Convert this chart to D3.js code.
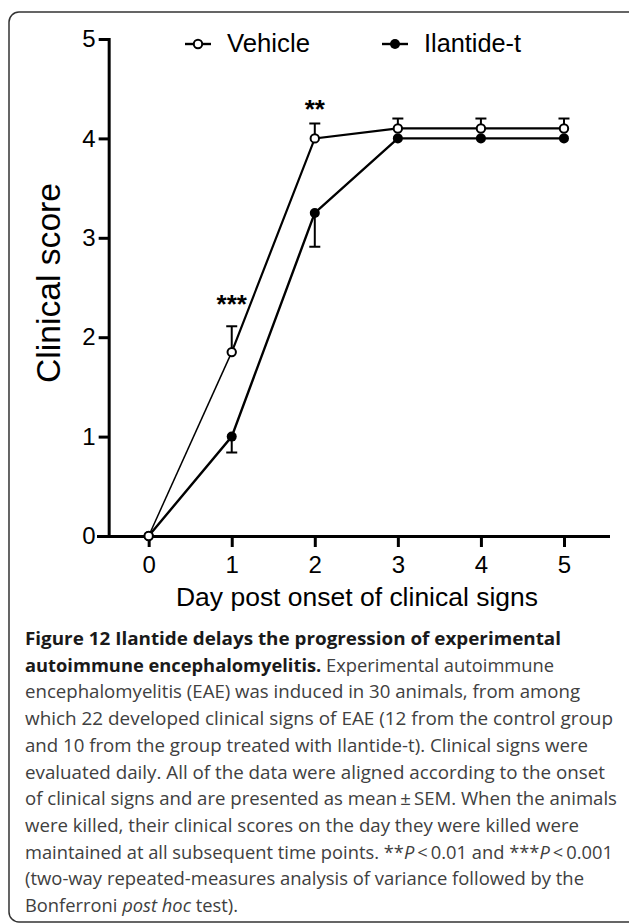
<!DOCTYPE html>
<html lang="en">
<head>
    <meta charset="UTF-8">
    <title>Ilantide delays the progression of EAE</title>
    <script src="https://d3js.org/d3.v7.min.js"></script>
    <style>
        body { margin: 0; background: #fff; }
        .axis path, .axis line { stroke: #000; stroke-width: 3; }
        .axis text { font-family: "Liberation Sans", Arial, sans-serif; font-size: 24px; fill: #000; }
        .lbl { font-family: "Liberation Sans", Arial, sans-serif; fill: #000; }
        .cap { font-family: "Open Sans", "Noto Sans", sans-serif; font-size: 18px; fill: #404040; }
        .cap .b { font-weight: 700; fill: #1a1a1a; }
    </style>
</head>
<body>
<svg id="chart" width="629" height="923"></svg>
<script>
    // data
    const days = [0, 1, 2, 3, 4, 5];
    const vehicle = [0, 1.85, 4.0, 4.1, 4.1, 4.1];
    const vehicleSem = [0, 0.26, 0.15, 0.1, 0.1, 0.1];
    const ilantide = [0, 1.0, 3.25, 4.0, 4.0, 4.0];
    const ilantideSem = [0, 0.16, 0.34, 0, 0, 0];
    const yTicks = [0, 1, 2, 3, 4, 5];
    const stars = [{day: 1, v: 2.38, t: "***"}, {day: 2, v: 4.35, t: "**"}];

    const caption = [
        [["Figure 12 Ilantide delays the progression of experimental", "b"]],
        [["autoimmune encephalomyelitis.", "b"], [" Experimental autoimmune", ""]],
        [["encephalomyelitis (EAE) was induced in 30 animals, from among", ""]],
        [["which 22 developed clinical signs of EAE (12 from the control group", ""]],
        [["and 10 from the group treated with Ilantide-t). Clinical signs were", ""]],
        [["evaluated daily. All of the data were aligned according to the onset", ""]],
        [["of clinical signs and are presented as mean\u2009\u00b1\u2009SEM. When the animals", ""]],
        [["were killed, their clinical scores on the day they were killed were", ""]],
        [["maintained at all subsequent time points. **", ""], ["P", "i"], ["\u2009<\u20090.01 and ***", ""], ["P", "i"], ["\u2009<\u20090.001", ""]],
        [["(two-way repeated-measures analysis of variance followed by the", ""]],
        [["Bonferroni ", ""], ["post hoc", "i"], [" test).", ""]]
    ];
    const captionWidths = [536, 529, 555, 588, 563, 580, 592, 554, 588, 559, 213];

    const svg = d3.select("#chart");

    // frame
    svg.append("rect")
        .attr("x", 9).attr("y", 12)
        .attr("width", 660).attr("height", 910)
        .attr("rx", 10)
        .attr("fill", "none").attr("stroke", "#333").attr("stroke-width", 1.5);

    const x = d3.scaleLinear().domain([-0.61, 5.53]).range([98, 608]);
    const y = d3.scaleLinear().domain([0, 5]).range([536, 39]);

    svg.append("g")
        .attr("class", "axis")
        .attr("transform", "translate(0,536)")
        .call(d3.axisBottom(x).tickValues(days).tickFormat(d3.format("d"))
            .tickSizeInner(11).tickSizeOuter(0).tickPadding(4))
        .selectAll("text").attr("dy", "0.9em");

    svg.append("g")
        .attr("class", "axis")
        .attr("transform", `translate(${x(0) - 40},0)`)
        .call(d3.axisLeft(y).tickValues(yTicks).tickFormat(d3.format("d"))
            .tickSizeInner(10).tickSizeOuter(0).tickPadding(3));

    svg.selectAll(".axis path").attr("stroke-linecap", "square");

    // error bars
    function errBars(vals, sem, dir) {
        const g = svg.append("g").attr("stroke", "#000").attr("stroke-width", 2);
        days.forEach((d, i) => {
            if (!sem[i]) return;
            const y2 = y(vals[i] + dir * sem[i]);
            g.append("line").attr("x1", x(d)).attr("x2", x(d)).attr("y1", y(vals[i])).attr("y2", y2);
            g.append("line").attr("x1", x(d) - 5.5).attr("x2", x(d) + 5.5).attr("y1", y2).attr("y2", y2);
        });
    }
    errBars(vehicle, vehicleSem, 1);
    errBars(ilantide, ilantideSem, -1);

    const line = d3.line().x((d, i) => x(days[i])).y(d => y(d));

    svg.append("path").datum(ilantide)
        .attr("d", line).attr("fill", "none").attr("stroke", "#000").attr("stroke-width", 2.4);
    // vehicle: first segment drawn thinner, as in the figure
    svg.append("path").datum(vehicle.slice(0, 2))
        .attr("d", line).attr("fill", "none").attr("stroke", "#000").attr("stroke-width", 1.5);
    svg.append("path").datum(vehicle)
        .attr("d", d3.line().x((d, i) => x(days[i])).y(d => y(d)).defined((d, i) => i >= 1))
        .attr("fill", "none").attr("stroke", "#000").attr("stroke-width", 2.2);

    svg.append("g").selectAll("circle").data(ilantide).enter().append("circle")
        .attr("cx", (d, i) => x(days[i])).attr("cy", d => y(d)).attr("r", 5)
        .attr("fill", "#000");
    svg.append("g").selectAll("circle").data(vehicle).enter().append("circle")
        .attr("cx", (d, i) => x(days[i])).attr("cy", d => y(d)).attr("r", 4.2)
        .attr("fill", "#fff").attr("stroke", "#000").attr("stroke-width", 2);

    // significance stars
    svg.selectAll(".star").data(stars).enter().append("text")
        .attr("class", "lbl star")
        .attr("x", d => x(d.day)).attr("y", d => y(d.v) + 14)
        .attr("text-anchor", "middle")
        .attr("font-size", 26).attr("font-weight", 700)
        .text(d => d.t);

    // legend
    const legend = [
        {name: "Vehicle", sx: 185, tx: 227, w: 83, open: true},
        {name: "Ilantide-t", sx: 382, tx: 424, w: 97, open: false}
    ];
    legend.forEach(l => {
        svg.append("line").attr("x1", l.sx).attr("x2", l.sx + 26).attr("y1", 44).attr("y2", 44)
            .attr("stroke", "#000").attr("stroke-width", 2.4);
        svg.append("circle").attr("cx", l.sx + 13).attr("cy", 44).attr("r", l.open ? 4.2 : 5)
            .attr("fill", l.open ? "#fff" : "#000").attr("stroke", "#000").attr("stroke-width", l.open ? 2 : 0);
        svg.append("text").attr("class", "lbl").attr("x", l.tx).attr("y", 52)
            .attr("font-size", 25).attr("textLength", l.w).attr("lengthAdjust", "spacingAndGlyphs")
            .text(l.name);
    });

    // axis titles
    svg.append("text").attr("class", "lbl")
        .attr("x", 176).attr("y", 606)
        .attr("font-size", 25).attr("textLength", 362).attr("lengthAdjust", "spacingAndGlyphs")
        .text("Day post onset of clinical signs");

    svg.append("text").attr("class", "lbl")
        .attr("transform", "translate(60,383) rotate(-90)")
        .attr("font-size", 34).attr("textLength", 200).attr("lengthAdjust", "spacingAndGlyphs")
        .text("Clinical score");

    // caption
    const cap = svg.append("g").attr("class", "cap");
    caption.forEach((segs, i) => {
        const t = cap.append("text")
            .attr("x", 25).attr("y", 645 + i * 26.7)
            .attr("textLength", captionWidths[i]).attr("lengthAdjust", "spacingAndGlyphs");
        segs.forEach(s => {
            const sp = t.append("tspan").text(s[0]);
            if (s[1] === "b") sp.attr("class", "b");
            if (s[1] === "i") sp.attr("font-style", "italic");
        });
    });
</script>
</body>
</html>
